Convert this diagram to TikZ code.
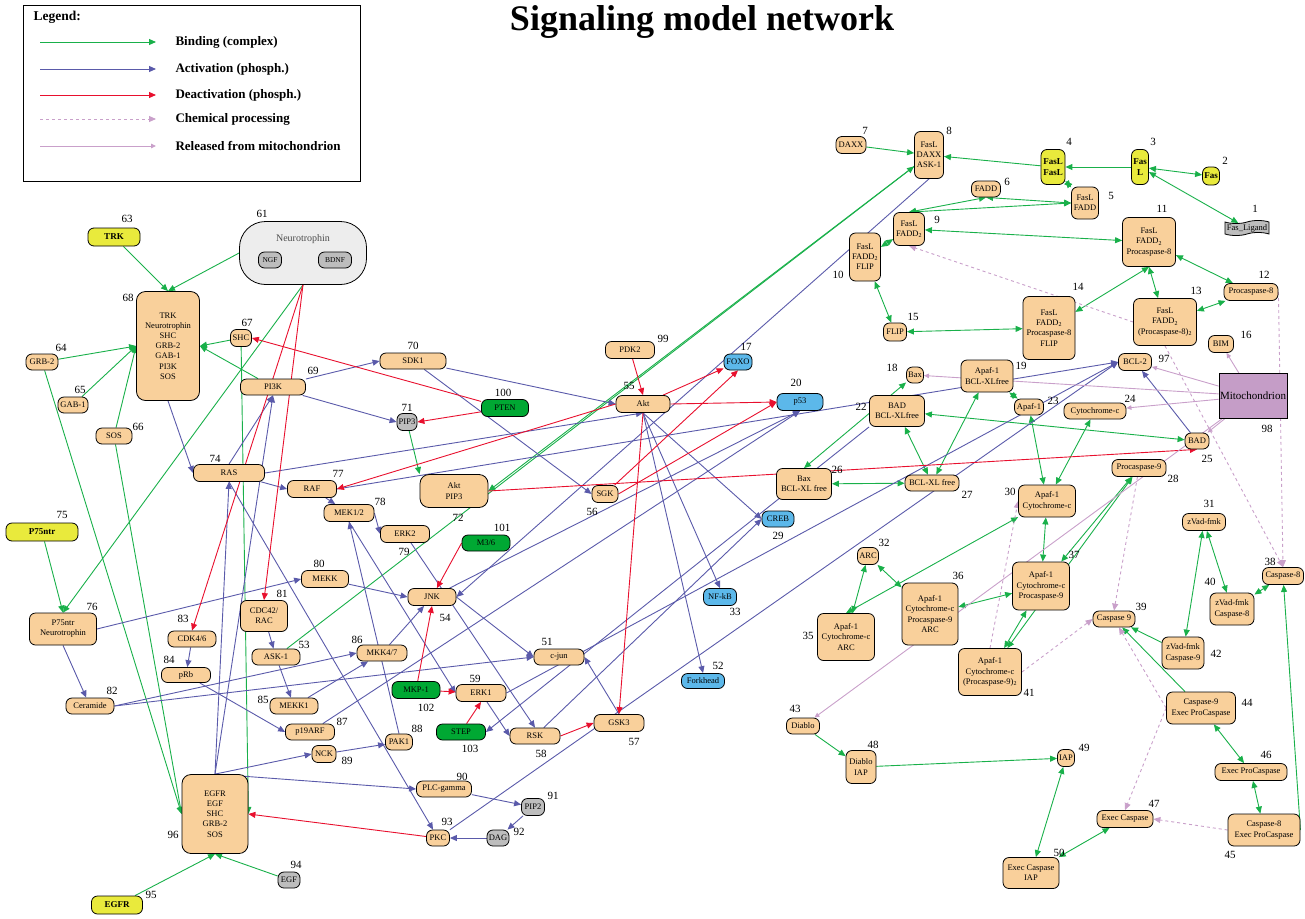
\documentclass[tikz,border=0pt]{standalone}
\usepackage{fontspec}
\setmainfont{Liberation Serif}
\usetikzlibrary{arrows.meta,shapes.symbols,backgrounds}
\definecolor{peach}{HTML}{F9D09B}
\definecolor{yelc}{HTML}{E9EA3C}
\definecolor{bluc}{HTML}{5CB8EA}
\definecolor{grnc}{HTML}{00A833}
\definecolor{gryc}{HTML}{BDBDBD}
\definecolor{mitoc}{HTML}{C59DC7}
\definecolor{bindc}{HTML}{19B04A}
\definecolor{actc}{HTML}{5A5AAA}
\definecolor{deactc}{HTML}{E8102E}
\definecolor{chemc}{HTML}{C9A0CA}
\tikzset{
  tip/.tip={Triangle[length=7pt,width=6pt]},
  mol/.style={draw, line width=0.8pt, fill=peach, rounded corners=6pt, inner sep=0.5pt,
    align=center, font=\fontsize{8.5}{10.2}\selectfont},
  sz/.style 2 args={minimum width=#1pt, minimum height=#2pt},
  yel/.style={fill=yelc, font=\fontsize{9}{10.5}\selectfont\bfseries},
  blu/.style={fill=bluc},
  grn/.style={fill=grnc},
  gry/.style={fill=gryc},
  num/.style={font=\fontsize{11}{12}\selectfont, inner sep=0pt},
  bind/.style={draw=bindc, line width=0.9pt, -tip},
  act/.style={draw=actc, line width=0.9pt, -tip},
  deact/.style={draw=deactc, line width=0.9pt, -tip},
  chem/.style={draw=chemc, line width=0.9pt, dashed, -tip},
  rel/.style={draw=chemc, line width=0.9pt, -{Triangle[length=5pt,width=4.5pt]}},
  both/.style={tip-tip}
}
\begin{document}
\begin{tikzpicture}[x=1pt,y=-1pt]
\useasboundingbox (0,0) rectangle (1305,918);

% title and legend
\node[anchor=base, font=\fontsize{36}{40}\selectfont\bfseries] (title) at (702,30) {Signaling model network};
\draw[line width=1pt] (23,5) rectangle (360,181);
\node[anchor=west, font=\fontsize{13.5}{15}\selectfont\bfseries] (legend) at (30,17) {Legend:};
\foreach \y/\s/\t in {42/bind/Binding (complex), 69/act/Activation (phosph.),
    95/deact/Deactivation (phosph.), 119/chem/Chemical processing,
    146/rel/Released from mitochondrion}{
  \coordinate (la\y) at (40,\y);
  \coordinate (lb\y) at (156,\y);
  \draw[\s] (la\y) -- (lb\y);
  \node[anchor=west, font=\fontsize{13}{15}\selectfont\bfseries] (lt\y) at (172,\y) {\t};
}

% Fas pathway
\node[draw, line width=0.8pt, fill=gryc, tape, tape bend height=3pt, sz={44}{15}, inner sep=0.5pt,
  font=\fontsize{8.5}{10}\selectfont] (faslig) at (1247,228) {Fas\_Ligand};
\node[mol, yel, sz={17}{18}] (fas) at (1211,176) {Fas};
\node[mol, yel, sz={17}{35}] (fasl) at (1140,167) {Fas\\L};
\node[mol, yel, sz={24}{35}] (fasfas) at (1053,167) {FasL\\FasL};
\node[mol, sz={27}{32}] (fasfadd) at (1085,203) {FasL\\FADD};
\node[mol, sz={29}{16}] (fadd) at (986,189) {FADD};
\node[mol, sz={30}{17}] (daxx) at (851,145) {DAXX};
\node[mol, sz={29}{47}] (fasdaxx) at (929,155) {FasL\\DAXX\\ASK-1};
\node[mol, sz={31}{33}] (fasfadd2) at (909,229) {FasL\\FADD\textsubscript{2}};
\node[mol, sz={31}{48}] (fasflip) at (865,257) {FasL\\FADD\textsubscript{2}\\FLIP};
\node[mol, sz={53}{49}] (fasproc8) at (1149,242) {FasL\\FADD\textsubscript{2}\\Procaspase-8};
\node[mol, sz={54}{17}] (proc8) at (1251,292) {Procaspase-8};
\node[mol, sz={63}{47}] (fasproc8two) at (1165,322) {FasL\\FADD\textsubscript{2}\\(Procaspase-8)\textsubscript{2}};
\node[mol, sz={52}{63}] (fasproc8flip) at (1049,328) {FasL\\FADD\textsubscript{2}\\Procaspase-8\\FLIP};
\node[mol, sz={23}{18}] (flip) at (895,332) {FLIP};

% mitochondrial pathway
\node[mol, sz={25}{17}] (bim) at (1221,344) {BIM};
\node[mol, blu, sz={28}{16}] (foxo) at (738,362) {FOXO};
\node[mol, sz={17}{16}] (bax) at (915,375) {Bax};
\node[mol, sz={52}{32}] (apafbcl) at (987,376) {Apaf-1\\BCL-XLfree};
\node[mol, blu, sz={46}{17}] (ptf) at (800,402) {p53};
\node[mol, sz={55}{31}] (badbcl) at (897,411) {BAD\\BCL-XLfree};
\node[mol, sz={29}{16}] (apaf) at (1029,407) {Apaf-1};
\node[mol, sz={62}{16}] (cytc) at (1095,411) {Cytochrome-c};
\node[mol, sz={24}{16}] (bad) at (1197,441) {BAD};
\node[mol, sz={55}{31}] (baxbcl) at (804,484) {Bax\\BCL-XL free};
\node[mol, sz={54}{16}] (bclxl) at (932,483) {BCL-XL free};
\node[mol, sz={54}{17}] (proc9) at (1139,468) {Procaspase-9};
\node[mol, blu, sz={32}{16}] (creb) at (778,519) {CREB};
\node[mol, sz={57}{32}] (apafcyt) at (1047,501) {Apaf-1\\Cytochrome-c};
\node[mol, sz={43}{17}] (zvad) at (1204,522) {zVad-fmk};
\node[mol, sz={21}{17}] (arc) at (868,556) {ARC};
\node[mol, blu, sz={33}{17}] (nfkb) at (720,597) {NF-kB};
\node[mol, sz={57}{47}] (apafcytarc) at (846,637) {Apaf-1\\Cytochrome-c\\ARC};
\node[mol, sz={56}{62}] (apafcytp9arc) at (930,614) {Apaf-1\\Cytochrome-c\\Procaspase-9\\ARC};
\node[mol, sz={57}{48}] (apafcytp9) at (1041,586) {Apaf-1\\Cytochrome-c\\Procaspase-9};
\node[mol, sz={41}{17}] (casp8) at (1283,576) {Caspase-8};
\node[mol, sz={42}{16}] (casp9) at (1114,619) {Caspase 9};
\node[mol, sz={44}{32}] (zvadc8) at (1232,609) {zVad-fmk\\Caspase-8};
\node[mol, sz={63}{47}] (apafcytp9two) at (990,672) {Apaf-1\\Cytochrome-c\\(Procaspase-9)\textsubscript{2}};
\node[mol, sz={42}{32}] (zvadc9) at (1183,653) {zVad-fmk\\Caspase-9};
\node[mol, sz={33}{16}] (diablo) at (803,726) {Diablo};
\node[mol, sz={69}{32}] (c9exec) at (1201,708) {Caspase-9\\Exec ProCaspase};
\node[mol, sz={72}{32}] (c8exec) at (1264,830) {Caspase-8\\Exec ProCaspase};
\node[mol, sz={72}{17}] (execpro) at (1251,772) {Exec ProCaspase};
\node[mol, sz={56}{17}] (execcasp) at (1125,819) {Exec Caspase};
\node[mol, sz={30}{33}] (diabloiap) at (861,767) {Diablo\\IAP};
\node[mol, sz={17}{17}] (iap) at (1066,758) {IAP};
\node[mol, sz={56}{31}] (execiap) at (1031,873) {Exec Caspase\\IAP};
\node[mol, sz={33}{17}] (bcl2) at (1135,362) {BCL-2};
\node[draw, line width=0.8pt, fill=mitoc, sz={68}{45}, inner sep=0pt,
  font=\fontsize{11}{12}\selectfont] (mito) at (1253,396) {Mitochondrion};

% kinase cascades
\node[mol, sz={50}{16}] (cjun) at (559,657) {c-jun};
\node[mol, blu, sz={43}{15}] (forkhead) at (703,681) {Forkhead};
\node[mol, sz={48}{16}] (ask) at (276,657) {ASK-1};
\node[mol, sz={48}{17}] (jnk) at (432,597) {JNK};
\node[mol, sz={54}{17}] (akt) at (643,404) {Akt};
\node[mol, sz={26}{17}] (sgk) at (605,494) {SGK};
\node[mol, sz={50}{17}] (gsk) at (619,723) {GSK3};
\node[mol, sz={50}{16}] (rsk) at (535,736) {RSK};
\node[mol, sz={50}{17}] (erk1) at (481,693) {ERK1};
\node[draw, line width=0.8pt, fill=black!7, rounded corners=26pt, sz={127}{63}] (ntr) at (303,253) {};
\node[text=black!70, font=\fontsize{10}{12}\selectfont] (ntrtext) at (303,239) {Neurotrophin};
\node[mol, gry, sz={23}{16}, font=\fontsize{7.5}{9}\selectfont] (ngf) at (270,260) {NGF};
\node[mol, gry, sz={33}{16}, font=\fontsize{7.5}{9}\selectfont] (bdnf) at (335,260) {BDNF};
\node[mol, yel, sz={52}{18}] (trk) at (114,237) {TRK};
\node[mol, sz={32}{16}] (grb) at (42,362) {GRB-2};
\node[mol, sz={30}{16}] (gab) at (73,405) {GAB-1};
\node[mol, sz={36}{16}] (sos) at (114,436) {SOS};
\node[mol, sz={21}{17}] (shc) at (241,338) {SHC};
\node[mol, rounded corners=9pt, sz={63}{109}] (trkcx) at (168,346) {TRK\\Neurotrophin\\SHC\\GRB-2\\GAB-1\\PI3K\\SOS};
\node[mol, sz={65}{16}] (pik) at (273,387) {PI3K};
\node[mol, sz={66}{16}] (sdk) at (413,361) {SDK1};
\node[mol, gry, sz={20}{17}] (pip3) at (407,422) {PIP3};
\node[mol, rounded corners=9pt, sz={68}{33}] (aktpip) at (454,491) {Akt\\PIP3};
\node[mol, sz={71}{17}] (ras) at (229,473) {RAS};
\node[mol, yel, sz={72}{18}] (pntr) at (42,532) {P75ntr};
\node[mol, sz={67}{32}] (pntrcx) at (63,629) {P75ntr\\Neurotrophin};
\node[mol, sz={49}{17}] (raf) at (312,489) {RAF};
\node[mol, sz={50}{17}] (mek) at (349,513) {MEK1/2};
\node[mol, sz={49}{17}] (erk2) at (405,534) {ERK2};
\node[mol, sz={47}{17}] (mekk) at (325,579) {MEKK};
\node[mol, sz={47}{31}] (cdc) at (264,616) {CDC42/\\RAC};
\node[mol, sz={48}{16}] (ceram) at (90,706) {Ceramide};
\node[mol, sz={48}{16}] (cdk) at (192,639) {CDK4/6};
\node[mol, sz={49}{15}] (prb) at (186,675) {pRb};
\node[mol, sz={48}{16}] (mekk1) at (294,706) {MEKK1};
\node[mol, sz={50}{16}] (mkk) at (382,653) {MKK4/7};
\node[mol, sz={49}{16}] (arf) at (310,732) {p19ARF};
\node[mol, sz={27}{16}] (pak) at (399,742) {PAK1};
\node[mol, sz={24}{17}] (nck) at (324,754) {NCK};
\node[mol, sz={55}{16}] (plc) at (444,789) {PLC-gamma};
\node[mol, gry, sz={23}{17}] (pip2) at (533,807) {PIP2};
\node[mol, gry, sz={22}{16}] (dag) at (498,838) {DAG};
\node[mol, sz={23}{16}] (pkc) at (438,838) {PKC};
\node[mol, gry, sz={22}{16}] (egf) at (289,880) {EGF};
\node[mol, yel, sz={51}{18}] (egfr) at (117,905) {EGFR};
\node[mol, rounded corners=9pt, sz={66}{79}] (egfrcx) at (215,814) {EGFR\\EGF\\SHC\\GRB-2\\SOS};
\node[mol, sz={49}{17}] (pdk) at (630,350) {PDK2};
\node[mol, grn, sz={47}{17}] (pten) at (505,408) {PTEN};
\node[mol, grn, sz={48}{16}] (mthree) at (486,543) {M3/6};
\node[mol, grn, sz={48}{17}] (mkp) at (416,690) {MKP-1};
\node[mol, grn, sz={49}{16}] (stp) at (461,732) {STEP};

% numbers
\foreach \t/\x/\y in {1/1255/209, 2/1225/161, 3/1153/142, 4/1069/142, 5/1111/196, 6/1007/182,
  7/865/131, 8/949/131, 9/937/220, 10/838/275, 11/1162/209, 12/1264/275, 13/1196/291,
  14/1078/287, 15/913/317, 16/1246/335, 17/746/347, 18/892/368, 19/1021/366, 20/796/383,
  22/861/407, 23/1053/401, 24/1130/399, 25/1207/459, 26/837/470, 27/967/495, 28/1173/479,
  29/778/536, 30/1010/492, 31/1209/504, 32/884/543, 33/735/612, 35/808/636, 36/958/576,
  37/1074/555, 38/1270/562, 39/1141/607, 40/1210/582, 41/1029/693, 42/1216/654, 43/795/709,
  44/1247/703, 45/1230/855, 46/1266/755, 47/1154/804, 48/873/745, 49/1084/748, 50/1059/853,
  51/547/642, 52/718/666, 53/304/645, 54/445/618, 55/629/386, 56/592/512, 57/634/742,
  58/541/754, 59/475/679, 61/262/214, 63/127/219, 64/61/348, 65/80/390, 66/138/427,
  67/247/323, 68/128/298, 69/313/371, 70/413/346, 71/407/408, 72/458/518, 74/215/459,
  75/62/515, 76/92/607, 77/338/474, 78/380/502, 79/404/552, 80/319/564, 81/282/594,
  82/112/691, 83/183/619, 84/169/660, 85/263/700, 86/357/640, 87/342/722, 88/417/729,
  89/347/761, 90/462/777, 91/553/796, 92/519/832, 93/447/822, 94/296/865, 95/151/895,
  96/173/835, 97/1164/359, 98/1267/429, 99/663/339, 100/503/393, 101/502/528,
  102/426/708, 103/470/749}
  \node[num] (l\t) at (\x,\y) {\t};

\begin{scope}[on background layer]
% binding (complex)
\draw[bind,both] (faslig) -- (fasl);
\draw[bind,both] (fasl) -- (fas);
\draw[bind] (fasl) -- (fasfas);
\draw[bind,both] (fasfas) -- (fasfadd);
\draw[bind] (fasfas) -- (fasdaxx);
\draw[bind] (daxx) -- (fasdaxx);
\draw[bind,both] (fasfadd2.north) -- (fadd.south);
\draw[bind,both] (fasfadd2.north) -- (fasfadd.west);
\draw[bind,both] (fadd.south) -- (fasfadd.west);
\draw[bind,both] (fasfadd2) -- (fasflip);
\draw[bind,both] (fasfadd2) -- (fasproc8);
\draw[bind,both] (fasflip) -- (flip);
\draw[bind,both] (flip) -- (fasproc8flip);
\draw[bind,both] (fasproc8.south) -- (fasproc8flip);
\draw[bind,both] (fasproc8.south) -- (fasproc8two);
\draw[bind,both] (fasproc8) -- (proc8);
\draw[bind,both] (proc8) -- (fasproc8two);
\draw[bind] (ask) -- (fasdaxx);
\draw[bind] (fasdaxx) -- (aktpip.east);
\draw[bind] (pip3) -- (aktpip.north west);
\draw[bind] (trk) -- (trkcx.north);
\draw[bind] (ntr.west) -- (trkcx.north);
\foreach \s in {grb,gab,sos} \draw[bind] (\s) -- (trkcx.west);
\foreach \s in {shc,pik} \draw[bind] (\s) -- (trkcx.east);
\foreach \s in {grb,sos} \draw[bind] (\s) -- (egfrcx.west);
\draw[bind] (shc) -- (egfrcx.east);
\draw[bind] (egfr) -- (egfrcx.south);
\draw[bind] (egf) -- (egfrcx.south);
\draw[bind] (ntr.south) -- (pntrcx.north);
\draw[bind] (pntr) -- (pntrcx.north);
\draw[bind,both] (apafbcl) -- (apaf);
\draw[bind,both] (apafbcl) -- (bclxl);
\draw[bind,both] (badbcl) -- (bclxl);
\draw[bind,both] (badbcl) -- (bad);
\draw[bind,both] (bax) -- (baxbcl.north);
\draw[bind,both] (baxbcl) -- (bclxl);
\draw[bind,both] (apaf) -- (apafcyt);
\draw[bind,both] (cytc) -- (apafcyt);
\draw[bind,both] (apafcyt) -- (apafcytp9);
\draw[bind,both] (apafcyt) -- (apafcytarc.north);
\draw[bind,both] (arc) -- (apafcytarc);
\draw[bind,both] (arc) -- (apafcytp9arc);
\draw[bind,both] (apafcytp9arc) -- (apafcytp9);
\draw[bind,both] (apafcytp9) -- (proc9);
\draw[bind,both] (apafcytp9two) -- (apafcytp9);
\draw[bind,both] (apafcytp9two) -- (proc9);
\draw[bind,both] (zvad) -- (zvadc9);
\draw[bind,both] (zvad) -- (zvadc8);
\draw[bind,both] (zvadc8) -- (casp8);
\draw[bind] (zvadc9) -- (casp9);
\draw[bind] (c9exec) -- (casp9);
\draw[bind,both] (c9exec) -- (execpro);
\draw[bind,both] (execpro) -- (c8exec);
\draw[bind] (c8exec.east) -- (casp8);
\draw[bind] (diablo) -- (diabloiap);
\draw[bind] (diabloiap) -- (iap);
\draw[bind,both] (iap) -- (execiap);
\draw[bind,both] (execcasp) -- (execiap);
% activation (phosph.)
\draw[act] (trkcx.south) -- (ras.west);
\draw[act] (pik) -- (sdk.west);
\draw[act] (pik) -- (pip3.west);
\draw[act] (sdk) -- (akt.west);
\draw[act] (sdk) -- (sgk.west);
\draw[act] (ras) -- (raf.west);
\draw[act] (ras.north) -- (pik.south);
\draw[act] (ras.east) -- (akt.south);
\draw[act] (egfrcx.north) -- (ras.south);
\draw[act] (egfrcx.north) -- (pik.south);
\draw[act] (egfrcx.north) -- (nck.west);
\draw[act] (egfrcx.north) -- (plc.west);
\draw[act] (ras.south) -- (pkc);
\draw[act] (raf.east) -- (bcl2.west);
\draw[act] (raf) -- (mek);
\draw[act] (mek.east) -- (erk2.west);
\draw[act] (mek.south) -- (erk1.west);
\draw[act] (erk2) -- (rsk.north);
\draw[act] (erk1) -- (rsk.west);
\draw[act] (erk1.east) -- (bcl2.west);
\draw[act] (pak.north) -- (mek.south);
\draw[act] (nck) -- (pak);
\draw[act] (plc) -- (pip2);
\draw[act] (pip2) -- (dag);
\draw[act] (dag) -- (pkc);
\draw[act] (pkc) -- (bcl2.west);
\draw[act] (pntrcx.south) -- (ceram);
\draw[act] (pntrcx.east) -- (mekk.west);
\draw[act] (ceram.east) -- (mkk.west);
\draw[act] (ceram.east) -- (cjun.west);
\draw[act] (cdc) -- (ask);
\draw[act] (ask) -- (mekk1);
\draw[act] (mekk1) -- (mkk);
\draw[act] (mkk) -- (jnk);
\draw[act] (mekk) -- (jnk.west);
\draw[act] (cdk) -- (prb);
\draw[act] (prb) -- (arf.west);
\draw[act] (arf) -- (ptf.south);
\draw[act] (jnk.east) -- (cjun.west);
\draw[act] (jnk) -- (ptf.south);
\draw[act] (fasdaxx.south) -- (jnk.east);
\draw[act] (akt.south) -- (forkhead.north);
\draw[act] (akt.south) -- (nfkb.north);
\draw[act] (akt.south) -- (creb.west);
\draw[act] (rsk) -- (creb.west);
\draw[act] (gsk.north) -- (cjun.east);
\draw[act] (bad) -- (bcl2);
\draw[act] (badbcl.south west) -- (stp.east);
% deactivation (phosph.)
\draw[deact] (ntr.south) -- (cdk.north);
\draw[deact] (ntr.south) -- (cdc.north);
\draw[deact] (pten) -- (shc.east);
\draw[deact] (pten) -- (pip3.east);
\draw[deact] (pdk) -- (akt.north);
\draw[deact] (akt) -- (foxo);
\draw[deact] (akt.east) -- (ptf.west);
\draw[deact] (akt.west) -- (raf.east);
\draw[deact] (akt.south) -- (gsk.north);
\draw[deact] (sgk) -- (foxo.south);
\draw[deact] (sgk.east) -- (ptf.west);
\draw[deact] (aktpip.east) -- (bad.south);
\draw[deact] (mthree.west) -- (jnk);
\draw[deact] (mkp) -- (jnk.south);
\draw[deact] (mkp) -- (erk1);
\draw[deact] (stp) -- (erk1.south);
\draw[deact] (rsk.east) -- (gsk.west);
\draw[deact] (pkc) -- (egfrcx.east);
% released from mitochondrion
\foreach \t in {bim,bcl2,bax,cytc,bad,diablo} \draw[rel] (mito) -- (\t);
% chemical processing
\draw[chem] (proc8.east) -- (casp8.north);
\draw[chem] (fasproc8two.south) -- (casp8.north);
\draw[chem] (fasproc8two.west) -- (fasfadd2.south);
\draw[chem] (proc9) -- (casp9.north);
\draw[chem] (apafcytp9two.north) -- (apafcyt.west);
\draw[chem] (apafcytp9two.east) -- (casp9.west);
\draw[chem] (c9exec.west) -- (casp9);
\draw[chem] (c9exec.west) -- (execcasp.north);
\draw[chem] (c8exec.west) -- (execcasp.east);
\end{scope}
\end{tikzpicture}
\end{document}
